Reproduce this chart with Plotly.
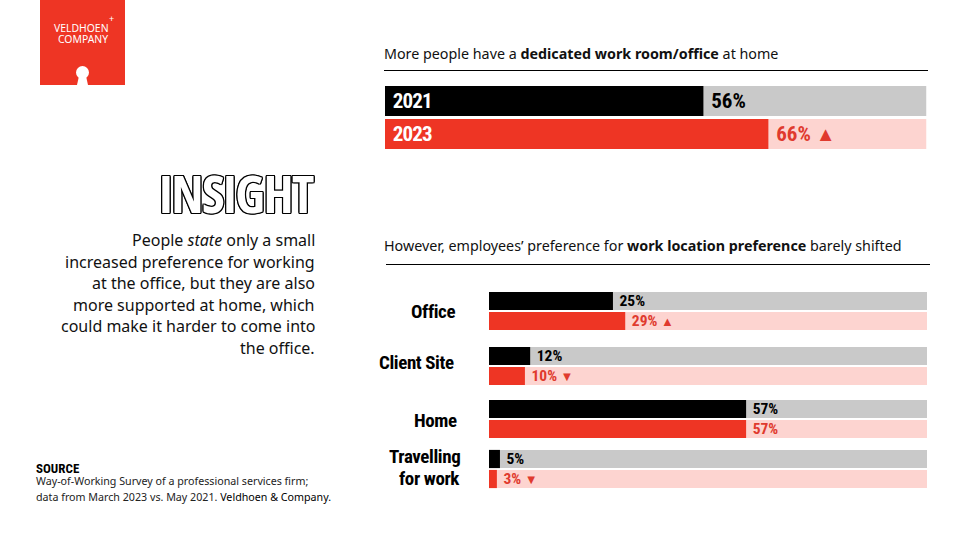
import plotly.graph_objects as go

W, H = 960, 540
BODY = "Noto Sans"
NARROW = "Roboto Condensed"
RED, BLACK, GREY, PINK = "#EE3524", "#000000", "#C9C9C9", "#FDD4D0"
LABEL_RED = "#E03A2E"

# Top panel
room_years = ["2021", "2023"]
room_labels = ["56%", "66%"]
room_change = ["", "▲"]
# Drawn bar lengths as share of the track
# (the reference's bars are not strictly proportional to their printed labels).
room_drawn = [58.8, 70.8]

# Bottom panel
locations = ["Office", "Client Site", "Home", "Travelling<br>for work"]
labels_2021 = ["25%", "12%", "57%", "5%"]
labels_2023 = ["29%", "10%", "57%", "3%"]
change_2023 = ["▲", "▼", "", "▼"]
drawn_2021 = [28.3, 9.4, 58.7, 2.5]
drawn_2023 = [31.1, 8.2, 58.7, 1.8]

body_lines = [
    "People <i>state</i> only a small",
    "increased preference for working",
    "at the office, but they are also",
    "more supported at home, which",
    "could make it harder to come into",
    "the office.",
]
source_lines = [
    "Way-of-Working Survey of a professional services firm;",
    'data from March 2023 vs. May 2021. <span style="color:#000">Veldhoen &amp; Company.</span>',
]

TRACK = 100


def px(x):
    return x / W


def py(y):
    return 1 - y / H


def tight(text, spacing):
    return f'<span style="letter-spacing:{spacing}px">{text}</span>'


def label_text(value, change, tri_size):
    pad = "\u00a0"
    if not change:
        return pad + value
    return f'{pad}{value} <span style="font-size:{tri_size}px">{change}</span>'


fig = go.Figure()
layout = {}


def add_panel(idx, x0, x1, y0, y1, rows, drawn, texts, size, inside=None):
    sfx = "" if idx == 1 else str(idx)
    layout[f"xaxis{sfx}"] = dict(domain=[px(x0), px(x1)], range=[0, TRACK], visible=False,
                                 anchor=f"y{sfx}", fixedrange=True)
    layout[f"yaxis{sfx}"] = dict(domain=[py(y1), py(y0)], visible=False, type="category",
                                 categoryorder="array", categoryarray=rows[::-1],
                                 anchor=f"x{sfx}", fixedrange=True)
    axes = dict(xaxis=f"x{sfx}", yaxis=f"y{sfx}", showlegend=False, hoverinfo="skip", orientation="h")
    fig.add_bar(x=[TRACK, TRACK], y=rows, marker_color=[GREY, PINK], marker_line_width=0, **axes)
    fig.add_bar(x=drawn, y=rows, marker_color=[BLACK, RED], marker_line_width=0,
                text=texts, textposition="outside", constraintext="none", cliponaxis=False,
                textangle=0,
                outsidetextfont=dict(family=NARROW, size=size, color=[BLACK, LABEL_RED], weight="bold"),
                **axes)
    if inside:
        fig.add_bar(x=drawn, y=rows, marker_color="rgba(0,0,0,0)", marker_line_width=0,
                    text=inside, textposition="inside", insidetextanchor="start",
                    constraintext="none", textangle=0,
                    insidetextfont=dict(family=NARROW, size=size, color="white", weight="bold"), **axes)


add_panel(1, 385, 926.5, 84.5, 150.5, room_years, room_drawn,
          [label_text(v, c, 20) for v, c in zip(room_labels, room_change)], 21,
          inside=["\u00a0" + tight(y, -0.9) for y in room_years])

bands = [(291, 331), (346, 386), (399, 439), (449, 489)]
for i, (top, bottom) in enumerate(bands):
    add_panel(i + 2, 489, 927, top, bottom, room_years, [drawn_2021[i], drawn_2023[i]],
              [label_text(labels_2021[i], "", 13), label_text(labels_2023[i], change_2023[i], 13)], 15.5)

annotations = []


def note(x, y, text, size, family=BODY, color="#111111", xanchor="left", align="left", **font):
    annotations.append(dict(x=px(x), y=py(y), xref="paper", yref="paper", text=text, showarrow=False,
                            xanchor=xanchor, yanchor="middle", align=align, borderpad=0,
                            font=dict(family=family, size=size, color=color, **font)))


note(383, 54, "More people have a <b>dedicated work room/office</b> at home", 14.3)
note(383, 246, "However, employees’ preference for <b>work location preference</b> barely shifted", 14.3)

loc_right = [456, 455, 458, 461]
loc_mid = [[312], [362], [420], [456, 478]]
for name, right, mids in zip(locations, loc_right, loc_mid):
    for part, mid in zip(name.split("<br>"), mids):
        note(right, mid, tight(part, -0.4), 19, NARROW, "#000000", "right", "right", weight="bold")

annotations.append(dict(x=px(316), y=py(192.5), xref="paper", yref="paper",
                        text='<span style="font-stretch:condensed;letter-spacing:-1.6px">INSIGHT</span>',
                        showarrow=False, xanchor="right", yanchor="middle",
                        font=dict(family="Open Sans", size=52, color="white", weight="bold",
                                  shadow="1.2px 0 0 #000,-1.2px 0 0 #000,0 1.2px 0 #000,0 -1.2px 0 #000,"
                                         "1px 1px 0 #000,-1px 1px 0 #000,1px -1px 0 #000,-1px -1px 0 #000")))

for i, line in enumerate(body_lines):
    note(316, 240 + 21.6 * i, line, 16, xanchor="right", align="right")

note(35, 468.5, "SOURCE", 13, NARROW, "#000000", weight="bold")
for i, line in enumerate(source_lines):
    note(35, 480.5 + 16 * i, line, 10.7, color="#222222")

note(81, 28, "VELDHOEN", 10.4, BODY, "white", "center", "center")
note(83, 38.5, "COMPANY", 10.4, BODY, "white", "center", "center")
note(111.5, 18.5, "+", 9, BODY, "white", "center", "center")


def paper_path(points):
    return "M" + " L".join(f"{px(x):.5f},{py(y):.5f}" for x, y in points) + " Z"


shapes = [
    dict(type="rect", xref="paper", yref="paper", x0=px(40), x1=px(125), y0=py(85), y1=py(0),
         fillcolor=RED, line_width=0),
    dict(type="circle", xref="paper", yref="paper", x0=px(76), x1=px(89), y0=py(79), y1=py(66),
         fillcolor="white", line_width=0),
    dict(type="path", xref="paper", yref="paper",
         path=paper_path([(79, 76), (86, 76), (88, 85), (77, 85)]), fillcolor="white", line_width=0),
    dict(type="line", xref="paper", yref="paper", x0=px(384), x1=px(928), y0=py(70.5), y1=py(70.5),
         line=dict(color="#000000", width=1.2)),
    dict(type="line", xref="paper", yref="paper", x0=px(386), x1=px(930), y0=py(264.5), y1=py(264.5),
         line=dict(color="#000000", width=1.2)),
]

fig.update_layout(width=W, height=H, margin=dict(l=0, r=0, t=0, b=0), paper_bgcolor="white",
                  plot_bgcolor="white", barmode="overlay", bargap=.09, showlegend=False,
                  annotations=annotations, shapes=shapes, **layout)
fig.write_html("out.html", config={"displayModeBar": False},
               post_script="document.body.style.margin='0';document.body.style.overflow='hidden';")
